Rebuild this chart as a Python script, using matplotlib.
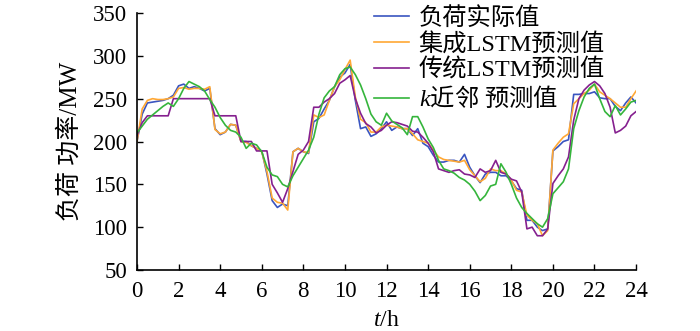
import numpy as np
import matplotlib
matplotlib.use("Agg")
import matplotlib.pyplot as plt

# 15 min steps over one day
hours = np.arange(0, 24.01, 0.25)

actual = [200, 232, 245, 246, 247, 248, 250, 254, 265, 267, 262, 264, 262, 259, 262, 215,
          208, 211, 220, 219, 200, 200, 195, 192, 189, 162, 131, 123, 127, 125, 188, 192,
          188, 186, 223, 227, 238, 248, 264, 275, 280, 290, 248, 215, 217, 206, 209, 215,
          223, 213, 217, 215, 215, 207, 215, 198, 194, 184, 176, 176, 178, 178, 176, 185,
          170, 160, 152, 162, 164, 164, 160, 160, 154, 145, 143, 108, 108, 100, 96, 98,
          189, 194, 200, 202, 255, 255, 256, 256, 258, 251, 250, 250, 241, 236, 245, 252,
          245]

ens_lstm = [200, 238, 248, 250, 249, 249, 250, 252, 262, 263, 261, 262, 262, 261, 264, 214,
            209, 211, 220, 219, 200, 199, 195, 192, 188, 165, 134, 129, 128, 120, 188, 192,
            188, 187, 231, 228, 231, 248, 264, 272, 284, 295, 252, 226, 222, 211, 211, 217,
            219, 218, 217, 215, 215, 209, 202, 200, 198, 190, 182, 179, 178, 177, 176, 178,
            167, 160, 153, 157, 168, 166, 166, 162, 155, 143, 141, 114, 108, 104, 90, 96,
            190, 198, 205, 209, 244, 250, 256, 260, 267, 258, 254, 250, 245, 240, 240, 250,
            259]

trad_lstm = [207, 222, 230, 230, 230, 230, 230, 250, 250, 250, 250, 250, 250, 250, 250, 230,
             230, 230, 230, 230, 200, 200, 200, 189, 189, 189, 150, 140, 129, 145, 165, 185,
             190, 200, 240, 240, 246, 250, 256, 268, 272, 277, 250, 233, 221, 217, 210, 213,
             219, 223, 222, 220, 218, 212, 211, 205, 198, 188, 168, 166, 164, 166, 167, 162,
             161, 158, 168, 164, 166, 178, 164, 162, 156, 154, 141, 98, 100, 90, 90, 98,
             151, 160, 168, 182, 225, 250, 260, 266, 270, 265, 256, 240, 210, 213, 218, 230,
             235]

knn = [210, 218, 226, 231, 236, 241, 245, 241, 250, 262, 270, 267, 264, 259, 249, 240,
       228, 219, 213, 211, 205, 192, 198, 196, 188, 170, 161, 159, 150, 147, 160, 170,
       180, 190, 205, 232, 251, 259, 264, 278, 285, 287, 278, 266, 250, 232, 223, 219,
       233, 224, 220, 216, 208, 229, 229, 217, 203, 193, 178, 168, 166, 163, 158, 155,
       150, 142, 131, 137, 148, 150, 174, 164, 150, 134, 123, 116, 110, 104, 100, 110,
       139, 146, 153, 168, 215, 236, 252, 262, 267, 250, 235, 229, 242, 231, 238, 246,
       248]

series = [actual, ens_lstm, trad_lstm, knn]
labels = ["负荷实际值", "集成LSTM预测值", "传统LSTM预测值", r"$k\mathsf{近邻\ 预测值}$"]
colors = ["#3a55c0", "#ffa835", "#85208f", "#35b53c"]

plt.rcParams['font.family'] = ['Liberation Serif', 'Noto Sans CJK SC']
# italic k from the serif font, chinese part of the same label from the CJK font
plt.rcParams['mathtext.fontset'] = 'custom'
plt.rcParams['mathtext.rm'] = 'Liberation Serif'
plt.rcParams['mathtext.it'] = 'Liberation Serif:italic'
plt.rcParams['mathtext.sf'] = 'Noto Sans CJK SC'

fig = plt.figure(figsize=(7, 3.31), dpi=100)
ax = fig.add_axes([0.1957, 0.1843, 0.713, 0.7764])

for values, label, color in zip(series, labels, colors):
  ax.plot(hours, values, color=color, linewidth=1.2, label=label)

ax.set_xlim(0, 24)
ax.set_ylim(50, 350)
ax.set_xticks(np.arange(0, 25, 2))
ax.set_yticks(np.arange(50, 351, 50))
ax.tick_params(direction='in', length=4, width=1, labelsize=16.5)
ax.tick_params(axis='y', pad=7)
ax.tick_params(axis='x', pad=8)
ax.spines['top'].set_visible(False)
ax.spines['right'].set_visible(False)
ax.spines['left'].set_linewidth(1.2)
ax.spines['bottom'].set_linewidth(1.2)

ax.set_xlabel("$t$/h", fontsize=17, labelpad=6)
ax.set_ylabel("负荷 功率/MW", fontsize=18, labelpad=8)

fig.legend(loc='upper left', bbox_to_anchor=(0.52, 1.009), frameon=False,
           fontsize=17.5, handlelength=1.44, handletextpad=0.41, labelspacing=0.13,
           borderaxespad=0)

fig.savefig("out.png", dpi=100)
